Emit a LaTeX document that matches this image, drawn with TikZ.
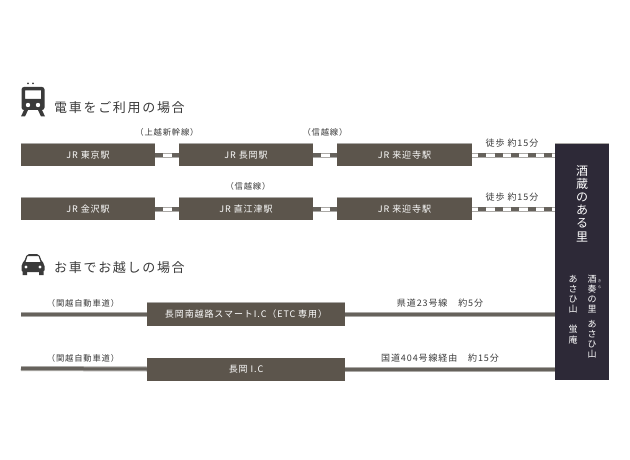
\documentclass[tikz,border=0pt]{standalone}
\usepackage{fontspec}
\setmainfont{Noto Sans CJK JP}
\newfontfamily\headfont[LetterSpace=13]{Noto Sans CJK JP}
\newfontfamily\labfont[LetterSpace=10]{Noto Sans CJK JP}
\definecolor{boxc}{HTML}{5C554C}
\definecolor{destc}{HTML}{2D2937}
\definecolor{railc}{HTML}{66625C}
\definecolor{edgec}{HTML}{ABA9A6}
\definecolor{inkc}{HTML}{3A3A3A}
\tikzset{
  x=1pt,y=-1pt,
  stn/.style={fill=boxc,draw=none,text=white,inner sep=0pt,font=\labfont\fontsize{9}{10}\selectfont,anchor=center},
  lab/.style={text=inkc,inner sep=0pt,font=\labfont\fontsize{8.3}{9}\selectfont,anchor=center},
  walk/.style={text=inkc,inner sep=0pt,font=\labfont\fontsize{9}{10}\selectfont,anchor=center},
  head/.style={text=inkc,inner sep=0pt,anchor=west,font=\headfont\fontsize{13}{15}\selectfont},
  vert/.style={text=white,inner sep=0pt,align=center,anchor=north},
  railbase/.style={draw=edgec,line width=5pt},
  railwhite/.style={draw=white,line width=3pt},
  raildash/.style={draw=railc,line width=3.6pt,dash pattern=on 8pt off 8.6pt},
  road/.style={draw=edgec,line width=5pt},
  roadin/.style={draw=railc,line width=3pt},
  icon/.style={fill=inkc,draw=none},
}
\newcommand{\railway}[3]{%
  \path[railbase] (#1) -- (#2);
  \path[railwhite] (#1) -- (#2);
  \path[raildash,dash phase=#3] (#1) -- (#2);
}
\newcommand{\motorway}[2]{%
  \path[road] (#1) -- (#2);
  \path[roadin] (#1) -- (#2);
}
\begin{document}
\begin{tikzpicture}
\useasboundingbox (0,0) rectangle (630,460);
\fill[white] (0,0) rectangle (630,460);

% Destination panel
\node[fill=destc,minimum width=54pt,minimum height=236.5pt,inner sep=0pt] (dest) at (582,261.75) {};
\draw[edgec,line width=0.8pt] (dest.north west) -- (dest.north east);

% Stations
\newcommand{\stn}[4]{\node[stn,minimum width=#3pt,minimum height=22.5pt] (#1) at (#2) {#4};}
\stn{tokyo}{88,155}{134}{JR 東京駅}
\stn{nagaoka}{246,155}{134}{JR 長岡駅}
\stn{raigo}{404.5,155}{134.5}{JR 来迎寺駅}
\stn{kanazawa}{88,209}{134}{JR 金沢駅}
\stn{naoetsu}{246,209}{134}{JR 直江津駅}
\stn{raigob}{404.5,209}{134.5}{JR 来迎寺駅}
\foreach \n in {tokyo,nagaoka,raigo,kanazawa,naoetsu,raigob}{
  \draw[edgec,line width=0.8pt] (\n.north west) -- (\n.north east);
}

% Rail connectors
\railway{tokyo.east}{nagaoka.west}{0}
\railway{nagaoka.east}{raigo.west}{0}
\railway{kanazawa.east}{naoetsu.west}{0}
\railway{naoetsu.east}{raigob.west}{0}
\coordinate (destA) at (dest.west |- raigo.east);
\coordinate (destB) at (dest.west |- raigob.east);
\railway{raigo.east}{destA}{10.6}
\railway{raigob.east}{destB}{10.6}

% Road boxes and connectors
\coordinate (roadA) at (21,314.5);
\coordinate (roadB) at (21,368.5);
\node[stn,minimum width=198pt,minimum height=23pt] (smart) at (246,314.5) {長岡南越路スマートI.C（ETC 専用）};
\node[stn,minimum width=198pt,minimum height=23pt] (ic) at (246,369) {長岡 I.C};
\draw[edgec,line width=0.8pt] (smart.north west) -- (smart.north east);
\coordinate (destC) at (dest.west |- smart.east);
\coordinate (destD) at (dest.west |- ic.east);
\motorway{roadA}{smart.west}
\motorway{roadB}{ic.west}
\motorway{smart.east}{destC}
\motorway{ic.east}{destD}

% Headings
\node[head] (h1) at (54,108) {電車をご利用の場合};
\node[head] (h2) at (54,268) {お車でお越しの場合};

% Labels
\node[lab] (l1) at (167,132) {（上越新幹線）};
\node[lab] (l2) at (325,132) {（信越線）};
\node[lab] (l3) at (248,186) {（信越線）};
\node[walk] (w1) at (512,143) {徒歩 約15分};
\node[walk] (w2) at (512,197) {徒歩 約15分};
\node[lab] (l4) at (83,303) {（関越自動車道）};
\node[lab] (l5) at (83,358) {（関越自動車道）};
\node[walk] (r1) at (440,303) {県道23号線　約5分};
\node[walk] (r2) at (440,358) {国道404号線経由　約15分};

% Vertical texts in the panel
\node[vert,font=\fontsize{12}{13.2}\selectfont] (t1) at (582,165) {酒\\蔵\\の\\あ\\る\\里};
\node[vert,font=\fontsize{9}{10.2}\selectfont] (t2) at (592,274.5) {酒\\奏\\の\\里};
\node[vert,font=\fontsize{3.5}{6}\selectfont] (t2r) at (599.5,279.5) {き\\ら};
\node[vert,font=\fontsize{9}{10}\selectfont] (t3) at (592,320) {あ\\さ\\ひ\\山};
\node[vert,font=\fontsize{9}{10.2}\selectfont] (t4) at (573,275) {あ\\さ\\ひ\\山};
\node[vert,font=\fontsize{9}{10.5}\selectfont] (t5) at (573,325) {蛍\\庵};

% Train icon
\fill[icon] (28,83.5) circle (1pt) (33,83.5) circle (1pt);
\fill[icon,even odd rule,rounded corners=2.5pt]
  (21.5,87) rectangle (44.5,110)
  (25,90.5) [sharp corners] rectangle (41,99);
\fill[white] (28,105) circle (2.2pt) (38,105) circle (2.2pt);
\fill[icon] (24,110) -- (28,110) -- (25,116.5) -- (21,116.5) -- cycle;
\fill[icon] (38,110) -- (42,110) -- (45,116.5) -- (41,116.5) -- cycle;

% Car icon
\fill[icon,even odd rule]
  (27,254) [rounded corners=2pt] -- (39,254) -- (42,262) [rounded corners=2pt] -- (44.5,264) -- (44.5,272) -- (21.5,272) -- (21.5,264) -- (24,262) -- cycle
  (27.5,256) [sharp corners] -- (38.5,256) -- (40.5,262) -- (25.5,262) -- cycle;
\fill[white] (26,267) circle (1.6pt) (40,267) circle (1.6pt);
\fill[icon] (22.5,272) rectangle (27,275) (39,272) rectangle (43.5,275);
\end{tikzpicture}
\end{document}
